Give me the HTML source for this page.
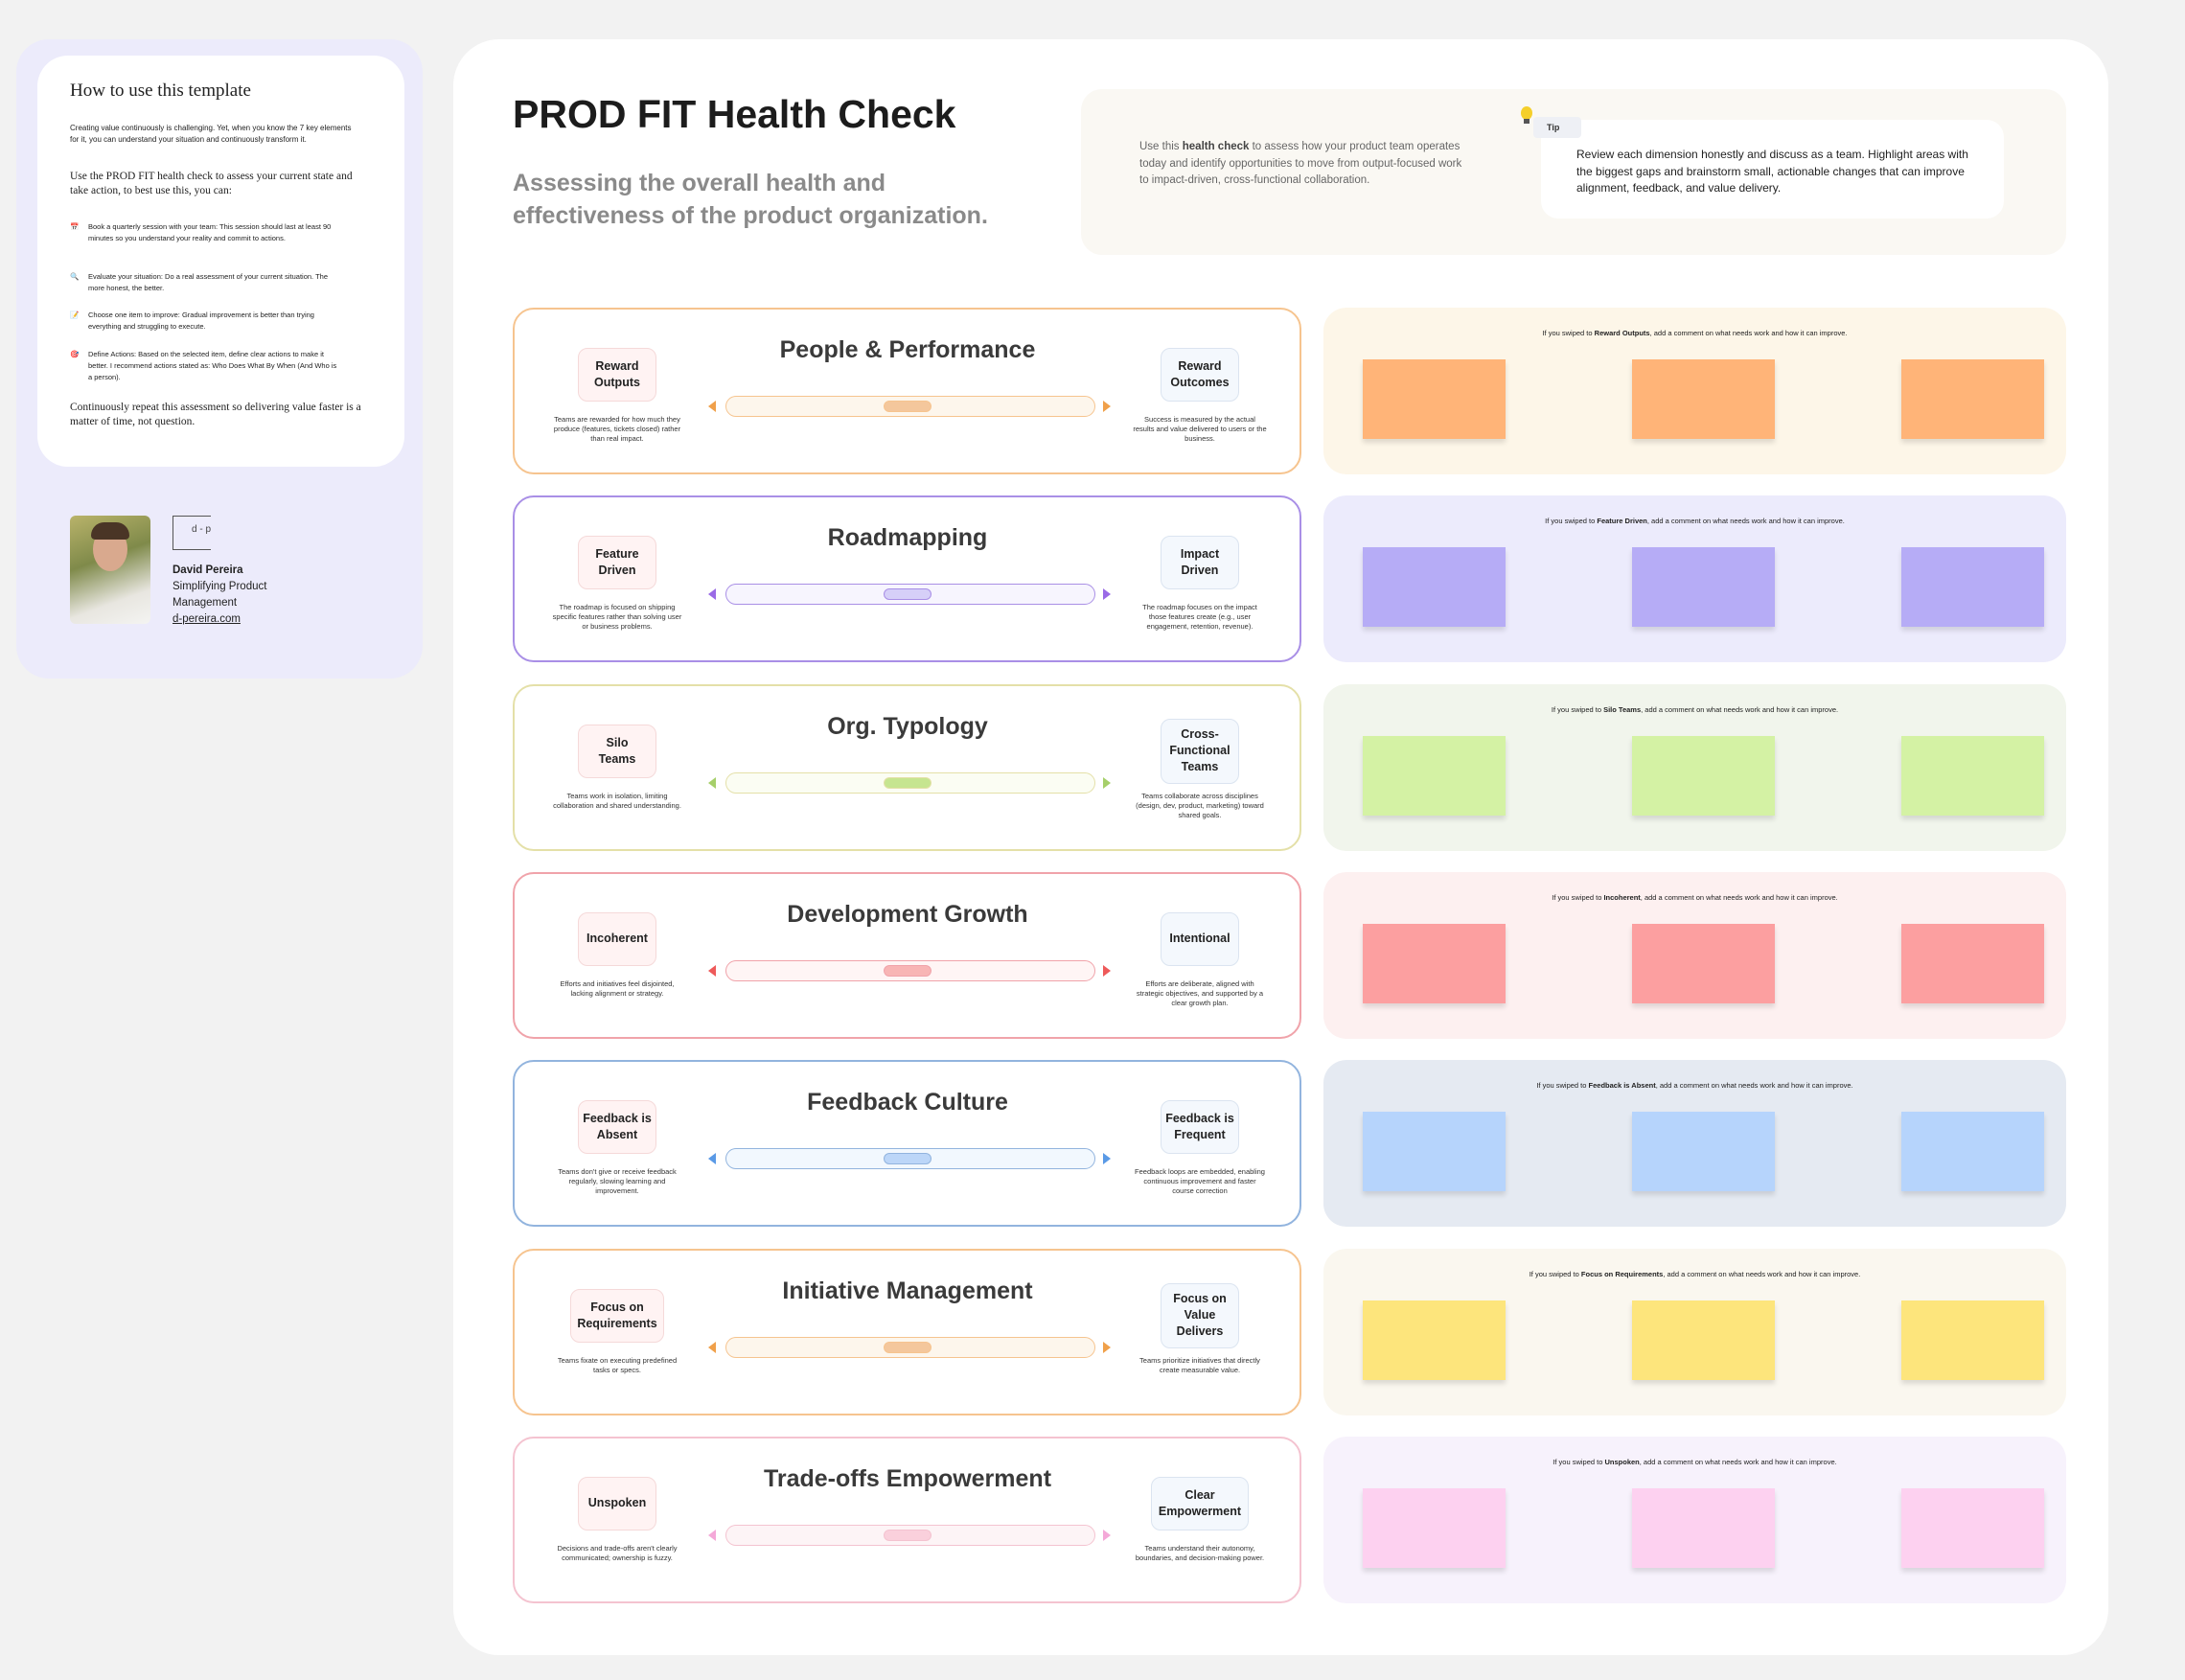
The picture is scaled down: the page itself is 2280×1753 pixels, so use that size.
<!DOCTYPE html>
<html><head><meta charset="utf-8">
<style>
*{box-sizing:border-box;margin:0;padding:0}
body{width:2280px;height:1753px;background:#f2f2f2;font-family:"Liberation Sans",sans-serif;position:relative;overflow:hidden;color:#222}
.abs{position:absolute}
.side{left:17px;top:41px;width:424px;height:667px;background:#ecebfb;border-radius:34px}
.card{left:39px;top:58px;width:383px;height:429px;background:#fff;border-radius:32px}
.serif{font-family:"Liberation Serif",serif}
.main{left:473px;top:41px;width:1727px;height:1686px;background:#fff;border-radius:48px}
.lc{position:absolute;left:535px;width:823px;height:174px;border:2px solid;border-radius:22px;background:#fff}
.rp{position:absolute;left:1381px;width:775px;height:174px;border-radius:24px}
.lb{position:absolute;top:40px;width:82px;height:56px;border:1.5px solid;border-radius:10px;font-weight:bold;font-size:12.5px;line-height:17px;display:flex;align-items:center;justify-content:center;text-align:center;color:#222}
.lb.l{left:66px;background:#fff3f3;border-color:#f5d9d9}
.lb.r{left:674px;background:#f4f8fd;border-color:#dbe4f0}
.desc{position:absolute;top:110px;width:140px;font-size:7.5px;line-height:10px;text-align:center;color:#333}
.ttl{position:absolute;left:250px;width:320px;top:28px;text-align:center;font-size:25px;font-weight:bold;color:#3a3a3a}
.sl{position:absolute;left:220px;top:90px;width:386px;height:22px;border:1.5px solid;border-radius:11px}
.th{position:absolute;left:164px;top:4px;width:50px;height:12px;border:1.5px solid;border-radius:6px}
.ar{position:absolute;top:95px;width:0;height:0;border-top:6px solid transparent;border-bottom:6px solid transparent}
.cm{position:absolute;top:22px;left:0;width:775px;text-align:center;font-size:7.5px;color:#222}
.st{position:absolute;top:54px;width:149px;height:83px;box-shadow:0 4px 5px rgba(0,0,0,.12)}
</style></head><body>
<div class="abs side"></div>
<div class="abs card"></div>
<div class="abs serif" style="left:73px;top:84px;font-size:19px;color:#222">How to use this template</div>
<div class="abs" style="left:73px;top:128px;width:300px;font-size:8px;line-height:12px">Creating value continuously is challenging. Yet, when you know the 7 key elements for it, you can understand your situation and continuously transform it.</div>
<div class="abs serif" style="left:73px;top:177px;width:300px;font-size:11.5px;line-height:15px">Use the PROD FIT health check to assess your current state and take action, to best use this, you can:</div>
<div class="abs" style="left:73px;top:231px;width:280px;font-size:7.5px;line-height:12px"><span style="position:absolute;left:0">📅</span><div style="margin-left:19px">Book a quarterly session with your team: This session should last at least 90 minutes so you understand your reality and commit to actions.</div></div>
<div class="abs" style="left:73px;top:283px;width:280px;font-size:7.5px;line-height:12px"><span style="position:absolute;left:0">🔍</span><div style="margin-left:19px">Evaluate your situation: Do a real assessment of your current situation. The more honest, the better.</div></div>
<div class="abs" style="left:73px;top:323px;width:280px;font-size:7.5px;line-height:12px"><span style="position:absolute;left:0">📝</span><div style="margin-left:19px">Choose one item to improve: Gradual improvement is better than trying everything and struggling to execute.</div></div>
<div class="abs" style="left:73px;top:364px;width:280px;font-size:7.5px;line-height:12px"><span style="position:absolute;left:0">🎯</span><div style="margin-left:19px">Define Actions: Based on the selected item, define clear actions to make it better. I recommend actions stated as: Who Does What By When (And Who is a person).</div></div>
<div class="abs serif" style="left:73px;top:418px;width:310px;font-size:11.5px;line-height:15px">Continuously repeat this assessment so delivering value faster is a matter of time, not question.</div>
<div class="abs" style="left:73px;top:538px;width:84px;height:113px;border-radius:6px;background:linear-gradient(160deg,#b9b36a,#7f8a4a 40%,#e8e6e0 75%,#f4f4f2)"></div>
<div class="abs" style="left:97px;top:550px;width:36px;height:46px;border-radius:50%;background:#d9a98e"></div>
<div class="abs" style="left:95px;top:545px;width:40px;height:18px;border-radius:20px 20px 6px 6px;background:#4a3526"></div>
<div class="abs" style="left:180px;top:538px;width:40px;height:36px;border:1px solid #555;border-right:none;font-size:10px;color:#444;padding:8px 0 0 19px">d - p</div>
<div class="abs" style="left:180px;top:587px;font-size:11.5px;line-height:17px;color:#222"><b>David Pereira</b><br>Simplifying Product<br>Management<br><u>d-pereira.com</u></div>

<div class="abs main"></div>
<div class="abs" style="left:535px;top:96px;font-size:41px;font-weight:bold;color:#1c1c1c">PROD FIT Health Check</div>
<div class="abs" style="left:535px;top:174px;font-size:25px;line-height:34px;font-weight:bold;color:#8a8a8a">Assessing the overall health and<br>effectiveness of the product organization.</div>
<div class="abs" style="left:1128px;top:93px;width:1028px;height:173px;background:#faf8f3;border-radius:22px"></div>
<div class="abs" style="left:1189px;top:145px;width:340px;font-size:11.5px;line-height:17.5px;color:#666">Use this <b style="color:#444">health check</b> to assess how your product team operates today and identify opportunities to move from output-focused work to impact-driven, cross-functional collaboration.</div>
<div class="abs" style="left:1608px;top:125px;width:483px;height:103px;background:#fff;border-radius:18px"></div>
<div class="abs" style="left:1600px;top:122px;width:50px;height:22px;background:#eef0f5;border-radius:4px;font-size:9px;font-weight:bold;padding:6px 0 0 14px;color:#333">Tip</div>
<div class="abs" style="left:1587px;top:111px;width:12px;height:14px;border-radius:50%;background:#f5cf2a"></div>
<div class="abs" style="left:1590px;top:124px;width:6px;height:5px;background:#555"></div>
<div class="abs" style="left:1645px;top:153px;width:425px;font-size:12px;line-height:17.5px;color:#222">Review each dimension honestly and discuss as a team. Highlight areas with the biggest gaps and brainstorm small, actionable changes that can improve alignment, feedback, and value delivery.</div>

<!-- rows -->
<div id="rows"></div>
<script>
const rows=[
["People & Performance","Reward<br>Outputs","Reward<br>Outcomes","Teams are rewarded for how much they produce (features, tickets closed) rather than real impact.","Success is measured by the actual results and value delivered to users or the business.","Reward Outputs","#f6c48f","#fdf6e8","#ffb478","#fdf6ec","#f4c79c","#f0a04a"],
["Roadmapping","Feature<br>Driven","Impact<br>Driven","The roadmap is focused on shipping specific features rather than solving user or business problems.","The roadmap focuses on the impact those features create (e.g., user engagement, retention, revenue).","Feature Driven","#a98fe6","#ecebfc","#b6acf6","#f7f5fe","#d6cff8","#9a6ae6"],
["Org. Typology","Silo<br>Teams","Cross-<br>Functional<br>Teams","Teams work in isolation, limiting collaboration and shared understanding.","Teams collaborate across disciplines (design, dev, product, marketing) toward shared goals.","Silo Teams","#e4e0a8","#f1f5ec","#d4f2a4","#fbfdf3","#c6e590","#a6cf6a"],
["Development Growth","Incoherent","Intentional","Efforts and initiatives feel disjointed, lacking alignment or strategy.","Efforts are deliberate, aligned with strategic objectives, and supported by a clear growth plan.","Incoherent","#f0a3aa","#fdf0f0","#fc9fa0","#fff5f5","#f8b5b5","#ee5a5a"],
["Feedback Culture","Feedback is<br>Absent","Feedback is<br>Frequent","Teams don't give or receive feedback regularly, slowing learning and improvement.","Feedback loops are embedded, enabling continuous improvement and faster course correction","Feedback is Absent","#92b4de","#e5eaf2","#b6d4fc","#f2f8fe","#bcd6f8","#5a9ae6"],
["Initiative Management","Focus on<br>Requirements","Focus on<br>Value<br>Delivers","Teams fixate on executing predefined tasks or specs.","Teams prioritize initiatives that directly create measurable value.","Focus on Requirements","#f6c48f","#faf7ef","#fde57c","#fdf6ec","#f4c79c","#f0a04a"],
["Trade-offs Empowerment","Unspoken","Clear<br>Empowerment","Decisions and trade-offs aren't clearly communicated; ownership is fuzzy.","Teams understand their autonomy, boundaries, and decision-making power.","Unspoken","#f4c3d0","#f7f2fc","#fdd1f0","#fdf4f6","#fad0dc","#f4a8d8"]];
let h="";
rows.forEach((r,i)=>{const t=321+i*196.3;
const wide=r[2].includes("Value")||r[2].includes("Empower")||r[1].includes("Require");
h+=`<div class="lc" style="top:${t}px;border-color:${r[6]}">
<div class="lb l" style="${r[1].includes('Require')?'left:58px;width:98px':''}">${r[1]}</div>
<div class="desc" style="left:37px">${r[3]}</div>
<div class="ttl">${r[0]}</div>
<div class="ar" style="left:202px;border-right:8px solid ${r[11]}"></div>
<div class="sl" style="border-color:${r[6]};background:${r[9]}"><div class="th" style="background:${r[10]};border-color:${r[6]}"></div></div>
<div class="ar" style="left:614px;border-left:8px solid ${r[11]}"></div>
<div class="lb r" style="${r[2].includes('Empower')?'left:664px;width:102px':''}${r[2].includes('Value')||r[2].includes('Cross')?';top:34px;height:68px':''}">${r[2]}</div>
<div class="desc" style="left:645px">${r[4]}</div></div>
<div class="rp" style="top:${t}px;background:${r[7]}">
<div class="cm">If you swiped to <b>${r[5]}</b>, add a comment on what needs work and how it can improve.</div>
<div class="st" style="left:41px;background:${r[8]}"></div>
<div class="st" style="left:322px;background:${r[8]}"></div>
<div class="st" style="left:603px;background:${r[8]}"></div></div>`;});
document.getElementById("rows").innerHTML=h;
</script>
</body></html>
